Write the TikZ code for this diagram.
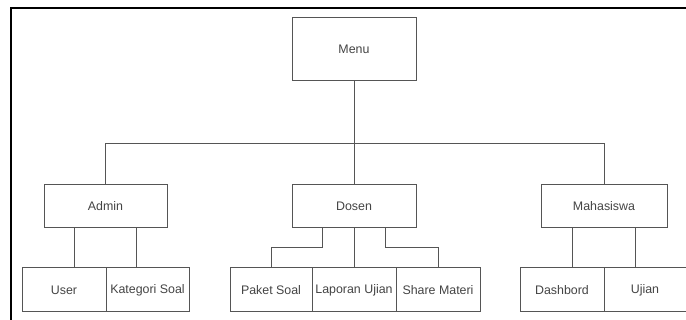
\documentclass[tikz,border=0pt]{standalone}
\usepackage{fontspec}
\setmainfont{Liberation Sans}
\usetikzlibrary{calc}
\definecolor{boxline}{HTML}{555555}
\definecolor{boxtext}{HTML}{444444}
\tikzset{
  blk/.style={draw=boxline, line width=1pt, fill=white, inner sep=0pt,
    minimum height=#1, font=\fontsize{12.4}{14}\selectfont, text=boxtext},
  blk/.default=43pt,
  link/.style={draw=boxline, line width=1pt},
  frameline/.style={draw=black, line width=2.6pt}
}
\begin{document}
\begin{tikzpicture}[x=1pt,y=-1pt]
\useasboundingbox (0,0) rectangle (686,320);
\draw[frameline] (11,321) -- (11,8) -- (687,8);
% top
\node[blk=63pt, minimum width=124pt] (Menu) at (354,49.5) {Menu};
% level 2
\node[blk, minimum width=123pt] (Admin) at (105.5,206.5) {Admin};
\node[blk, minimum width=124pt] (Dosen) at (354,206.5) {Dosen};
\node[blk, minimum width=126pt] (Mhs) at (604,206.5) {Mahasiswa};
% level 3
\node[blk=44pt, minimum width=84pt] (User) at (64,290) {User};
\node[blk=44pt, minimum width=83pt] (Kat) at (147.5,290) {Kategori Soal};
\node[blk=44pt, minimum width=82pt] (Paket) at (271,290) {Paket Soal};
\node[blk=44pt, minimum width=84pt] (Lap) at (354,290) {Laporan Ujian};
\node[blk=44pt, minimum width=84pt] (Share) at (438,290) {Share Materi};
\node[blk=44pt, minimum width=84pt] (Dash) at (562,290) {Dashbord};
\node[blk=44pt, minimum width=82pt] (Ujian) at (645,290) {Ujian};
% bus
\coordinate (bus) at (354,144);
\draw[link] (Menu.south) -- (Dosen.north);
\draw[link] (Admin.north) -- (Admin.north |- bus) -- (Mhs.north |- bus) -- (Mhs.north);
% admin
\coordinate (a1) at ($(Admin.south west)!0.25!(Admin.south east)$);
\coordinate (a2) at ($(Admin.south west)!0.75!(Admin.south east)$);
\draw[link] (a1) -- (a1 |- User.north);
\draw[link] (a2) -- (a2 |- Kat.north);
% dosen
\coordinate (d1) at ($(Dosen.south west)!0.25!(Dosen.south east)$);
\coordinate (d3) at ($(Dosen.south west)!0.75!(Dosen.south east)$);
\coordinate (elbow) at (354,248);
\draw[link] (d1) -- (d1 |- elbow) -- (Paket.north |- elbow) -- (Paket.north);
\draw[link] (Dosen.south) -- (Lap.north);
\draw[link] (d3) -- (d3 |- elbow) -- (Share.north |- elbow) -- (Share.north);
% mahasiswa
\coordinate (m1) at ($(Mhs.south west)!0.25!(Mhs.south east)$);
\coordinate (m2) at ($(Mhs.south west)!0.75!(Mhs.south east)$);
\draw[link] (m1) -- (m1 |- Dash.north);
\draw[link] (m2) -- (m2 |- Ujian.north);
\end{tikzpicture}
\end{document}
